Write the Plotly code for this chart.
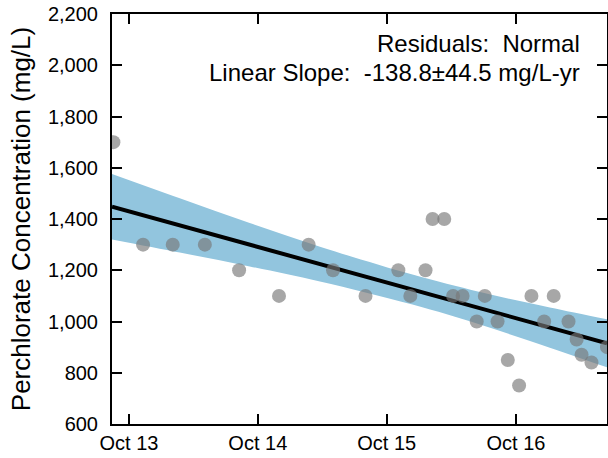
import plotly.graph_objects as go

# sample dates and perchlorate results (mg/L)
sample_dates = [
    "2013-08-18", "2013-11-10", "2014-02-02", "2014-05-04", "2014-08-09",
    "2014-11-30", "2015-02-22", "2015-05-02", "2015-08-02", "2015-11-03",
    "2015-12-07", "2016-01-19", "2016-02-08", "2016-03-12", "2016-04-06",
    "2016-05-03", "2016-06-12", "2016-07-05", "2016-08-10", "2016-09-08",
    "2016-10-10", "2016-11-14", "2016-12-20", "2017-01-16", "2017-02-27",
    "2017-03-22", "2017-04-05", "2017-05-03", "2017-06-16",
]
concentration = [
    1700, 1300, 1300, 1300, 1200,
    1100, 1300, 1200, 1100, 1200,
    1100, 1200, 1400, 1400, 1100,
    1100, 1000, 1100, 1000, 850,
    750, 1100, 1000, 1100, 1000,
    930, 870, 840, 900,
]

# linear trend and its confidence band
fit_dates = ["2013-08-14", "2017-06-16"]
fit_values = [1448, 915]
band_dates = ["2013-08-14", "2014-02-22", "2014-09-08", "2015-03-26",
              "2015-12-13", "2016-06-21", "2017-01-05", "2017-06-16"]
band_upper = [1576, 1481, 1384, 1292, 1183, 1115, 1055, 1009]
band_lower = [1320, 1269, 1215, 1156, 1066, 988, 898, 821]

tick_dates = ["2013-10-01", "2014-10-01", "2015-10-01", "2016-10-01"]

FONT = "Liberation Sans, Arial, sans-serif"

fig = go.Figure()

fig.add_trace(go.Scatter(x=band_dates, y=band_lower, mode="lines",
                         line=dict(width=0, shape="spline"), showlegend=False,
                         hoverinfo="skip"))
fig.add_trace(go.Scatter(x=band_dates, y=band_upper, mode="lines",
                         line=dict(width=0, shape="spline"), fill="tonexty",
                         fillcolor="#92c5de", showlegend=False, hoverinfo="skip"))
fig.add_trace(go.Scatter(x=fit_dates, y=fit_values, mode="lines",
                         line=dict(color="black", width=4), showlegend=False))
fig.add_trace(go.Scatter(x=sample_dates, y=concentration, mode="markers",
                         marker=dict(size=14, color="rgb(120,120,120)", opacity=0.65),
                         showlegend=False))

fig.add_annotation(text="Residuals:  Normal", xref="paper", yref="paper",
                   x=0.9495, y=0.929, xanchor="right", yanchor="middle",
                   showarrow=False, font=dict(size=24, color="black", family=FONT))
fig.add_annotation(text="Linear Slope:  -138.8\u00b144.5 mg/L-yr", xref="paper", yref="paper",
                   x=0.9495, y=0.8585, xanchor="right", yanchor="middle",
                   showarrow=False, font=dict(size=24, color="black", family=FONT))

fig.update_layout(
    width=608, height=458,
    margin=dict(l=112, r=1, t=14, b=34),
    template="none",
    paper_bgcolor="white", plot_bgcolor="white",
    font=dict(family=FONT, size=20, color="black"),
    showlegend=False,
)

fig.update_xaxes(
    range=["2013-08-14", "2017-06-16"],
    tickvals=tick_dates, tickformat="%b %y",
    ticks="inside", ticklen=10, tickwidth=1.5, tickcolor="black",
    showline=True, linecolor="black", linewidth=2, mirror="allticks",
    showgrid=False, zeroline=False,
)
fig.update_yaxes(
    range=[600, 2200], dtick=200, tickformat=",",
    ticks="inside", ticklen=10, tickwidth=1.5, tickcolor="black",
    showline=True, linecolor="black", linewidth=2, mirror="allticks",
    showgrid=False, zeroline=False,
    ticklabelstandoff=8, ticklabeloverflow="allow",
    title=dict(text="Perchlorate Concentration (mg/L)", font=dict(size=26), standoff=10),
)

# drop the browser's default 8px body margin so the figure fills the window
fig.write_html("out.html", config={"displayModeBar": False},
               post_script="document.body.style.margin='0';")
